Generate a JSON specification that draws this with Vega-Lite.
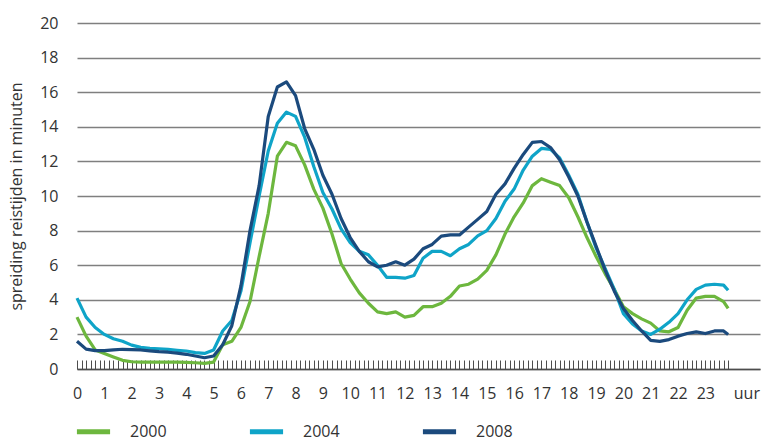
{
  "$schema": "https://vega.github.io/schema/vega-lite/v6.json",
  "width": 683,
  "height": 346,
  "autosize": {"type": "none"},
  "padding": {"left": 77, "top": 23, "right": 3, "bottom": 73},
  "config": {"view": {"stroke": null}, "font": "Open Sans"},
  "data": {
    "values": [
      {"minuut":0,"jaar":"2000","waarde":3.0},{"minuut":20,"jaar":"2000","waarde":1.9},{"minuut":40,"jaar":"2000","waarde":1.1},{"minuut":60,"jaar":"2000","waarde":0.9},{"minuut":80,"jaar":"2000","waarde":0.7},{"minuut":100,"jaar":"2000","waarde":0.5},{"minuut":120,"jaar":"2000","waarde":0.42},{"minuut":140,"jaar":"2000","waarde":0.4},{"minuut":160,"jaar":"2000","waarde":0.4},{"minuut":180,"jaar":"2000","waarde":0.4},{"minuut":200,"jaar":"2000","waarde":0.4},{"minuut":220,"jaar":"2000","waarde":0.4},{"minuut":240,"jaar":"2000","waarde":0.38},{"minuut":260,"jaar":"2000","waarde":0.36},{"minuut":280,"jaar":"2000","waarde":0.33},{"minuut":300,"jaar":"2000","waarde":0.4},{"minuut":320,"jaar":"2000","waarde":1.4},{"minuut":340,"jaar":"2000","waarde":1.6},{"minuut":360,"jaar":"2000","waarde":2.4},{"minuut":380,"jaar":"2000","waarde":3.9},{"minuut":400,"jaar":"2000","waarde":6.5},{"minuut":420,"jaar":"2000","waarde":9.0},{"minuut":440,"jaar":"2000","waarde":12.3},{"minuut":460,"jaar":"2000","waarde":13.1},{"minuut":480,"jaar":"2000","waarde":12.9},{"minuut":500,"jaar":"2000","waarde":11.8},{"minuut":520,"jaar":"2000","waarde":10.4},{"minuut":540,"jaar":"2000","waarde":9.3},{"minuut":560,"jaar":"2000","waarde":7.8},{"minuut":580,"jaar":"2000","waarde":6.1},{"minuut":600,"jaar":"2000","waarde":5.2},{"minuut":620,"jaar":"2000","waarde":4.4},{"minuut":640,"jaar":"2000","waarde":3.8},{"minuut":660,"jaar":"2000","waarde":3.3},{"minuut":680,"jaar":"2000","waarde":3.2},{"minuut":700,"jaar":"2000","waarde":3.3},{"minuut":720,"jaar":"2000","waarde":3.0},{"minuut":740,"jaar":"2000","waarde":3.1},{"minuut":760,"jaar":"2000","waarde":3.6},{"minuut":780,"jaar":"2000","waarde":3.6},{"minuut":800,"jaar":"2000","waarde":3.8},{"minuut":820,"jaar":"2000","waarde":4.2},{"minuut":840,"jaar":"2000","waarde":4.8},{"minuut":860,"jaar":"2000","waarde":4.9},{"minuut":880,"jaar":"2000","waarde":5.2},{"minuut":900,"jaar":"2000","waarde":5.7},{"minuut":920,"jaar":"2000","waarde":6.6},{"minuut":940,"jaar":"2000","waarde":7.8},{"minuut":960,"jaar":"2000","waarde":8.8},{"minuut":980,"jaar":"2000","waarde":9.6},{"minuut":1000,"jaar":"2000","waarde":10.6},{"minuut":1020,"jaar":"2000","waarde":11.0},{"minuut":1040,"jaar":"2000","waarde":10.8},{"minuut":1060,"jaar":"2000","waarde":10.6},{"minuut":1080,"jaar":"2000","waarde":9.9},{"minuut":1100,"jaar":"2000","waarde":8.8},{"minuut":1120,"jaar":"2000","waarde":7.6},{"minuut":1140,"jaar":"2000","waarde":6.5},{"minuut":1160,"jaar":"2000","waarde":5.5},{"minuut":1180,"jaar":"2000","waarde":4.6},{"minuut":1200,"jaar":"2000","waarde":3.6},{"minuut":1220,"jaar":"2000","waarde":3.2},{"minuut":1240,"jaar":"2000","waarde":2.9},{"minuut":1260,"jaar":"2000","waarde":2.65},{"minuut":1280,"jaar":"2000","waarde":2.2},{"minuut":1300,"jaar":"2000","waarde":2.15},{"minuut":1320,"jaar":"2000","waarde":2.4},{"minuut":1340,"jaar":"2000","waarde":3.4},{"minuut":1360,"jaar":"2000","waarde":4.1},{"minuut":1380,"jaar":"2000","waarde":4.2},{"minuut":1400,"jaar":"2000","waarde":4.2},{"minuut":1420,"jaar":"2000","waarde":3.9},{"minuut":1430,"jaar":"2000","waarde":3.5},
      {"minuut":0,"jaar":"2004","waarde":4.1},{"minuut":20,"jaar":"2004","waarde":3.0},{"minuut":40,"jaar":"2004","waarde":2.4},{"minuut":60,"jaar":"2004","waarde":2.0},{"minuut":80,"jaar":"2004","waarde":1.75},{"minuut":100,"jaar":"2004","waarde":1.6},{"minuut":120,"jaar":"2004","waarde":1.38},{"minuut":140,"jaar":"2004","waarde":1.25},{"minuut":160,"jaar":"2004","waarde":1.2},{"minuut":180,"jaar":"2004","waarde":1.17},{"minuut":200,"jaar":"2004","waarde":1.13},{"minuut":220,"jaar":"2004","waarde":1.08},{"minuut":240,"jaar":"2004","waarde":1.04},{"minuut":260,"jaar":"2004","waarde":0.95},{"minuut":280,"jaar":"2004","waarde":0.9},{"minuut":300,"jaar":"2004","waarde":1.1},{"minuut":320,"jaar":"2004","waarde":2.2},{"minuut":340,"jaar":"2004","waarde":2.8},{"minuut":360,"jaar":"2004","waarde":4.5},{"minuut":380,"jaar":"2004","waarde":7.3},{"minuut":400,"jaar":"2004","waarde":10.0},{"minuut":420,"jaar":"2004","waarde":12.6},{"minuut":440,"jaar":"2004","waarde":14.2},{"minuut":460,"jaar":"2004","waarde":14.85},{"minuut":480,"jaar":"2004","waarde":14.6},{"minuut":500,"jaar":"2004","waarde":13.4},{"minuut":520,"jaar":"2004","waarde":11.7},{"minuut":540,"jaar":"2004","waarde":10.2},{"minuut":560,"jaar":"2004","waarde":9.25},{"minuut":580,"jaar":"2004","waarde":8.1},{"minuut":600,"jaar":"2004","waarde":7.3},{"minuut":620,"jaar":"2004","waarde":6.8},{"minuut":640,"jaar":"2004","waarde":6.6},{"minuut":660,"jaar":"2004","waarde":6.0},{"minuut":680,"jaar":"2004","waarde":5.3},{"minuut":700,"jaar":"2004","waarde":5.3},{"minuut":720,"jaar":"2004","waarde":5.25},{"minuut":740,"jaar":"2004","waarde":5.4},{"minuut":760,"jaar":"2004","waarde":6.4},{"minuut":780,"jaar":"2004","waarde":6.8},{"minuut":800,"jaar":"2004","waarde":6.8},{"minuut":820,"jaar":"2004","waarde":6.55},{"minuut":840,"jaar":"2004","waarde":6.95},{"minuut":860,"jaar":"2004","waarde":7.2},{"minuut":880,"jaar":"2004","waarde":7.7},{"minuut":900,"jaar":"2004","waarde":8.0},{"minuut":920,"jaar":"2004","waarde":8.7},{"minuut":940,"jaar":"2004","waarde":9.7},{"minuut":960,"jaar":"2004","waarde":10.4},{"minuut":980,"jaar":"2004","waarde":11.5},{"minuut":1000,"jaar":"2004","waarde":12.3},{"minuut":1020,"jaar":"2004","waarde":12.75},{"minuut":1040,"jaar":"2004","waarde":12.7},{"minuut":1060,"jaar":"2004","waarde":12.2},{"minuut":1080,"jaar":"2004","waarde":11.2},{"minuut":1100,"jaar":"2004","waarde":10.1},{"minuut":1120,"jaar":"2004","waarde":8.5},{"minuut":1140,"jaar":"2004","waarde":7.0},{"minuut":1160,"jaar":"2004","waarde":5.8},{"minuut":1180,"jaar":"2004","waarde":4.6},{"minuut":1200,"jaar":"2004","waarde":3.2},{"minuut":1220,"jaar":"2004","waarde":2.6},{"minuut":1240,"jaar":"2004","waarde":2.2},{"minuut":1260,"jaar":"2004","waarde":2.0},{"minuut":1280,"jaar":"2004","waarde":2.3},{"minuut":1300,"jaar":"2004","waarde":2.7},{"minuut":1320,"jaar":"2004","waarde":3.2},{"minuut":1340,"jaar":"2004","waarde":4.0},{"minuut":1360,"jaar":"2004","waarde":4.6},{"minuut":1380,"jaar":"2004","waarde":4.85},{"minuut":1400,"jaar":"2004","waarde":4.9},{"minuut":1420,"jaar":"2004","waarde":4.85},{"minuut":1430,"jaar":"2004","waarde":4.55},
      {"minuut":0,"jaar":"2008","waarde":1.6},{"minuut":20,"jaar":"2008","waarde":1.15},{"minuut":40,"jaar":"2008","waarde":1.06},{"minuut":60,"jaar":"2008","waarde":1.06},{"minuut":80,"jaar":"2008","waarde":1.1},{"minuut":100,"jaar":"2008","waarde":1.14},{"minuut":120,"jaar":"2008","waarde":1.12},{"minuut":140,"jaar":"2008","waarde":1.1},{"minuut":160,"jaar":"2008","waarde":1.05},{"minuut":180,"jaar":"2008","waarde":1.0},{"minuut":200,"jaar":"2008","waarde":0.97},{"minuut":220,"jaar":"2008","waarde":0.92},{"minuut":240,"jaar":"2008","waarde":0.85},{"minuut":260,"jaar":"2008","waarde":0.75},{"minuut":280,"jaar":"2008","waarde":0.65},{"minuut":300,"jaar":"2008","waarde":0.75},{"minuut":320,"jaar":"2008","waarde":1.4},{"minuut":340,"jaar":"2008","waarde":2.5},{"minuut":360,"jaar":"2008","waarde":4.8},{"minuut":380,"jaar":"2008","waarde":8.0},{"minuut":400,"jaar":"2008","waarde":10.6},{"minuut":420,"jaar":"2008","waarde":14.6},{"minuut":440,"jaar":"2008","waarde":16.3},{"minuut":460,"jaar":"2008","waarde":16.6},{"minuut":480,"jaar":"2008","waarde":15.8},{"minuut":500,"jaar":"2008","waarde":13.9},{"minuut":520,"jaar":"2008","waarde":12.7},{"minuut":540,"jaar":"2008","waarde":11.2},{"minuut":560,"jaar":"2008","waarde":10.1},{"minuut":580,"jaar":"2008","waarde":8.7},{"minuut":600,"jaar":"2008","waarde":7.6},{"minuut":620,"jaar":"2008","waarde":6.8},{"minuut":640,"jaar":"2008","waarde":6.2},{"minuut":660,"jaar":"2008","waarde":5.9},{"minuut":680,"jaar":"2008","waarde":6.0},{"minuut":700,"jaar":"2008","waarde":6.2},{"minuut":720,"jaar":"2008","waarde":6.0},{"minuut":740,"jaar":"2008","waarde":6.35},{"minuut":760,"jaar":"2008","waarde":6.95},{"minuut":780,"jaar":"2008","waarde":7.2},{"minuut":800,"jaar":"2008","waarde":7.68},{"minuut":820,"jaar":"2008","waarde":7.75},{"minuut":840,"jaar":"2008","waarde":7.75},{"minuut":860,"jaar":"2008","waarde":8.2},{"minuut":880,"jaar":"2008","waarde":8.65},{"minuut":900,"jaar":"2008","waarde":9.1},{"minuut":920,"jaar":"2008","waarde":10.1},{"minuut":940,"jaar":"2008","waarde":10.7},{"minuut":960,"jaar":"2008","waarde":11.6},{"minuut":980,"jaar":"2008","waarde":12.4},{"minuut":1000,"jaar":"2008","waarde":13.1},{"minuut":1020,"jaar":"2008","waarde":13.15},{"minuut":1040,"jaar":"2008","waarde":12.8},{"minuut":1060,"jaar":"2008","waarde":12.1},{"minuut":1080,"jaar":"2008","waarde":11.1},{"minuut":1100,"jaar":"2008","waarde":10.0},{"minuut":1120,"jaar":"2008","waarde":8.5},{"minuut":1140,"jaar":"2008","waarde":7.1},{"minuut":1160,"jaar":"2008","waarde":5.7},{"minuut":1180,"jaar":"2008","waarde":4.5},{"minuut":1200,"jaar":"2008","waarde":3.5},{"minuut":1220,"jaar":"2008","waarde":2.8},{"minuut":1240,"jaar":"2008","waarde":2.2},{"minuut":1260,"jaar":"2008","waarde":1.65},{"minuut":1280,"jaar":"2008","waarde":1.6},{"minuut":1300,"jaar":"2008","waarde":1.7},{"minuut":1320,"jaar":"2008","waarde":1.9},{"minuut":1340,"jaar":"2008","waarde":2.05},{"minuut":1360,"jaar":"2008","waarde":2.15},{"minuut":1380,"jaar":"2008","waarde":2.05},{"minuut":1400,"jaar":"2008","waarde":2.2},{"minuut":1420,"jaar":"2008","waarde":2.2},{"minuut":1430,"jaar":"2008","waarde":2.0}
    ]
  },
  "mark": {"type": "line", "strokeWidth": 3.2, "strokeJoin": "round"},
  "encoding": {
    "x": {
      "field": "minuut",
      "type": "quantitative",
      "scale": {"domain": [0, 1500], "nice": false, "zero": false},
      "axis": {
        "title": null,
        "tickCount": 150,
        "grid": false,
        "domain": true,
        "domainColor": "#4d4d4d",
        "domainWidth": 1.3,
        "tickColor": "#4d4d4d",
        "tickWidth": 1,
        "tickSize": -9,
        "labelExpr": "datum.value == 1470 ? 'uur' : (datum.value % 60 == 0 && datum.value < 1440 ? '' + (datum.value / 60) : '')",
        "labelOverlap": false,
        "labelFlush": false,
        "labelBound": false,
        "labelPadding": 25,
        "labelFontSize": 16,
        "labelColor": "#333333",
        "tickOpacity": {"condition": {"test": "datum.value > 1430", "value": 0}, "value": 1}
      }
    },
    "y": {
      "field": "waarde",
      "type": "quantitative",
      "scale": {"domain": [0, 20], "nice": false},
      "axis": {
        "title": "spreiding reistijden in minuten",
        "titleFontSize": 16,
        "titleFontWeight": "normal",
        "titleColor": "#333333",
        "titlePadding": 15,
        "values": [0, 2, 4, 6, 8, 10, 12, 14, 16, 18, 20],
        "grid": true,
        "gridColor": "#7f7f7f",
        "gridWidth": 1.3,
        "domain": false,
        "ticks": false,
        "labelPadding": 19,
        "labelFontSize": 16,
        "labelColor": "#333333"
      }
    },
    "color": {
      "field": "jaar",
      "type": "nominal",
      "scale": {"domain": ["2000", "2004", "2008"], "range": ["#6db73e", "#0fa4c8", "#1b4a7d"]},
      "legend": {
        "title": null,
        "orient": "none",
        "direction": "horizontal",
        "legendX": -3,
        "legendY": 389,
        "symbolType": "stroke",
        "symbolSize": 1100,
        "symbolStrokeWidth": 5,
        "labelFontSize": 16,
        "labelColor": "#333333",
        "labelOffset": 17,
        "columnPadding": 72
      }
    }
  }
}
